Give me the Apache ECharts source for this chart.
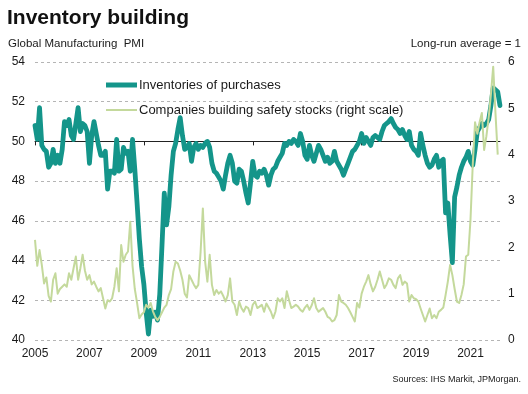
<!DOCTYPE html>
<html><head><meta charset="utf-8">
<script src="https://cdn.jsdelivr.net/npm/echarts@6/dist/echarts.min.js"></script>
<style>html,body{margin:0;padding:0;background:#fff}#c{width:528px;height:394px}</style>
</head><body><div id="c"></div>
<script>
// Monthly categories from Jan 2005
const startYear = 2005;
const nMonths = 206;
const months = [];
for (let i = 0; i < nMonths; i++) {
  const y = startYear + Math.floor(i / 12), m = (i % 12) + 1;
  months.push(y + '-' + (m < 10 ? '0' + m : m));
}

// Global Manufacturing PMI: inventories of purchases (left scale)
const inventories = [
  50.8, 50.1, 51.7, 49.8, 49.6, 49.5, 48.7, 48.9, 49.6, 48.9, 49.3, 48.9, // 2005
  49.6, 51.0, 50.8, 51.1, 50.3, 50.1, 50.9, 51.7, 50.5, 50.9, 50.8, 50.5, // 2006
  48.9, 50.3, 51.0, 50.4, 49.8, 49.3, 49.3, 49.5, 47.6, 48.5, 48.5, 48.4, // 2007
  50.1, 48.5, 48.6, 49.7, 49.4, 49.5, 48.5, 50.1, 48.6, 46.9, 45.1, 43.7, // 2008
  42.8, 41.4, 40.3, 41.5, 41.2, 41.4, 41.0, 42.3, 44.8, 47.4, 45.8, 46.7, // 2009
  48.3, 49.5, 49.9, 50.6, 51.2, 50.3, 49.6, 49.7, 49.9, 49.0, 49.7, 49.9, // 2010
  49.6, 49.8, 49.7, 49.9, 50.0, 49.7, 48.9, 48.5, 48.4, 48.2, 48.0, 47.6, // 2011
  48.3, 48.9, 49.3, 48.9, 48.0, 47.9, 48.6, 48.5, 48.0, 47.4, 46.9, 47.9, // 2012
  49.0, 48.3, 48.2, 48.5, 48.4, 48.6, 48.3, 47.8, 48.3, 48.6, 48.7, 49.0, // 2013
  49.2, 49.4, 49.9, 49.8, 50.0, 49.9, 50.1, 50.0, 49.8, 50.4, 50.0, 49.3, // 2014
  49.1, 49.8, 49.3, 49.0, 49.4, 49.8, 49.6, 49.3, 49.0, 49.2, 48.9, 49.0, // 2015
  49.5, 49.0, 48.8, 48.6, 48.3, 48.6, 48.9, 49.2, 49.5, 49.6, 49.8, 50.0, // 2016
  50.4, 49.9, 50.2, 50.0, 49.8, 50.2, 50.3, 50.2, 50.1, 50.5, 50.8, 50.9, // 2017
  51.0, 51.15, 50.9, 50.7, 50.6, 50.4, 50.6, 50.3, 50.1, 50.5, 49.8, 49.6, // 2018
  49.5, 49.3, 50.4, 49.8, 49.3, 48.9, 48.7, 48.8, 49.1, 49.3, 48.7, 49.0, // 2019
  49.1, 46.4, 46.9, 45.3, 43.9, 47.2, 47.7, 48.3, 48.7, 49.0, 49.2, 49.5, // 2020
  49.0, 48.8, 49.6, 50.5, 50.7, 50.9, 50.8, 50.9, 51.1, 51.8, 52.7, 52.6, // 2021
  52.5, 51.8                                                               // 2022
];

// Companies building safety stocks, long-run average = 1 (right scale)
const safetyStocks = [
  2.16, 1.6, 1.94, 1.62, 1.22, 1.35, 0.95, 0.83, 1.3, 1.44, 1.0, 1.1,     // 2005
  1.15, 1.2, 1.15, 1.44, 1.3, 1.55, 1.8, 1.3, 1.55, 1.84, 1.5, 1.3,       // 2006
  1.4, 1.2, 1.26, 1.15, 1.05, 1.12, 0.9, 0.68, 0.86, 0.83, 0.9, 1.15,     // 2007
  1.55, 1.05, 2.05, 1.69, 1.84, 1.91, 2.55, 1.6, 1.1, 0.8, 0.47, 0.55,    // 2008
  0.6, 0.76, 0.7, 0.8, 0.62, 0.5, 0.43, 0.5, 0.6, 0.7, 0.76, 0.97,        // 2009
  1.1, 1.48, 1.69, 1.65, 1.5, 1.3, 1.0, 0.92, 1.4, 1.3, 1.2, 1.12,        // 2010
  1.19, 1.9, 2.84, 1.69, 1.26, 1.84, 1.19, 0.97, 1.08, 1.0, 1.05, 0.95,   // 2011
  0.83, 0.97, 1.33, 0.83, 0.76, 0.54, 0.83, 0.69, 0.61, 0.72, 0.69, 0.54, // 2012
  0.76, 0.83, 0.69, 0.72, 0.76, 0.61, 0.79, 0.7, 0.61, 0.47, 0.61, 0.9,   // 2013
  0.83, 0.9, 0.69, 1.05, 0.86, 0.69, 0.72, 0.76, 0.72, 0.65, 0.61, 0.7,   // 2014
  0.76, 0.65, 0.75, 0.9, 0.69, 0.61, 0.65, 0.69, 0.61, 0.5, 0.47, 0.4,    // 2015
  0.43, 0.54, 0.97, 0.83, 0.8, 0.76, 0.69, 0.6, 0.5, 0.4, 0.8, 0.7,       // 2016
  1.0, 1.15, 1.26, 1.4, 1.2, 1.05, 1.15, 1.3, 1.48, 1.3, 1.12, 1.2,       // 2017
  1.33, 1.3, 1.19, 1.12, 1.33, 1.4, 1.19, 1.26, 1.22, 0.83, 0.97, 0.9,    // 2018
  0.88, 0.83, 0.68, 0.54, 0.4, 0.54, 0.68, 0.47, 0.54, 0.47, 0.61, 0.65,  // 2019
  0.7, 0.97, 1.26, 1.62, 1.4, 1.1, 0.83, 0.8, 0.97, 1.2, 1.8, 1.84,       // 2020
  2.6, 3.8, 4.7, 4.45, 4.7, 4.9, 4.1, 4.4, 4.8, 5.3, 5.9, 4.9,            // 2021
  4.0                                                                      // 2022
];

const leftTicks = {min: 40, max: 54, interval: 2};
const rightTicks = {min: 0, max: 6, interval: 1};

const FONT = '"Liberation Sans", Arial, sans-serif';
const TEAL = '#14958a';
const GREEN = '#c4d99c';
const TXT = '#1a1a1a';

const chart = echarts.init(document.getElementById('c'), null, {renderer: 'canvas'});
chart.setOption({
  animation: false,
  backgroundColor: '#fff',
  textStyle: {fontFamily: FONT},
  title: [
    {text: 'Inventory building', left: 7, top: 8, padding: 0,
     textStyle: {fontSize: 21, fontWeight: 'bold', color: '#111', fontFamily: FONT}},
    {text: 'Global Manufacturing  PMI', left: 8, top: 38, padding: 0,
     textStyle: {fontSize: 11.5, fontWeight: 'normal', color: TXT, fontFamily: FONT}},
    {text: 'Long-run average = 1', right: 7, top: 38, padding: 0,
     textStyle: {fontSize: 11.5, fontWeight: 'normal', color: TXT, fontFamily: FONT}},
    {text: 'Sources: IHS Markit, JPMorgan.', right: 7, top: 375, padding: 0,
     textStyle: {fontSize: 9, fontWeight: 'normal', color: TXT, fontFamily: FONT}}
  ],
  legend: [
    {data: ['Inventories of purchases'], left: 106, top: 78.5, padding: 0,
     icon: 'rect', itemWidth: 31, itemHeight: 5, selectedMode: false,
     textStyle: {fontSize: 13, color: TXT, fontFamily: FONT, padding: [0, 0, 0, -3]}},
    {data: ['Companies building safety stocks (right scale)'], left: 106, top: 103.5, padding: 0,
     icon: 'rect', itemWidth: 31, itemHeight: 2, selectedMode: false,
     textStyle: {fontSize: 13, color: TXT, fontFamily: FONT, padding: [0, 0, 0, -3]}}
  ],
  grid: {left: 35, right: 28, top: 62, bottom: 54, containLabel: false},
  xAxis: [
    {type: 'category', data: months, boundaryGap: false,
     axisLine: {show: false}, axisTick: {show: false}, splitLine: {show: false},
     axisLabel: {interval: (i) => i % 24 === 0, formatter: (v) => v.slice(0, 4),
                 fontSize: 12, color: TXT, margin: 8, fontFamily: FONT}},
    {type: 'category', data: months, boundaryGap: false, position: 'bottom', offset: -198.6,
     axisLine: {show: true, lineStyle: {color: '#222', width: 1}},
     axisTick: {show: true, interval: (i) => i % 48 === 0, length: 4, lineStyle: {color: '#222'}},
     axisLabel: {show: false}, splitLine: {show: false}}
  ],
  yAxis: [
    {type: 'value', position: 'left', min: leftTicks.min, max: leftTicks.max, interval: leftTicks.interval,
     axisLine: {show: false}, axisTick: {show: false},
     axisLabel: {fontSize: 12, color: TXT, margin: 10, fontFamily: FONT},
     splitLine: {show: true, lineStyle: {color: '#b5b5b5', type: [3, 3], width: 1}}},
    {type: 'value', position: 'right', min: rightTicks.min, max: rightTicks.max, interval: rightTicks.interval,
     axisLine: {show: false}, axisTick: {show: false},
     axisLabel: {fontSize: 12, color: TXT, margin: 8, fontFamily: FONT},
     splitLine: {show: false}}
  ],
  series: [
    {name: 'Inventories of purchases', type: 'line', xAxisIndex: 0, yAxisIndex: 0,
     data: inventories, symbol: 'none', showSymbol: false, z: 3,
     itemStyle: {color: TEAL},
     lineStyle: {color: TEAL, width: 4.8, join: 'round', cap: 'round'}},
    {name: 'Companies building safety stocks (right scale)', type: 'line', xAxisIndex: 0, yAxisIndex: 1,
     data: safetyStocks, symbol: 'none', showSymbol: false, z: 4,
     itemStyle: {color: GREEN},
     lineStyle: {color: GREEN, width: 2, join: 'round'}}
  ]
});
</script>
</body></html>
